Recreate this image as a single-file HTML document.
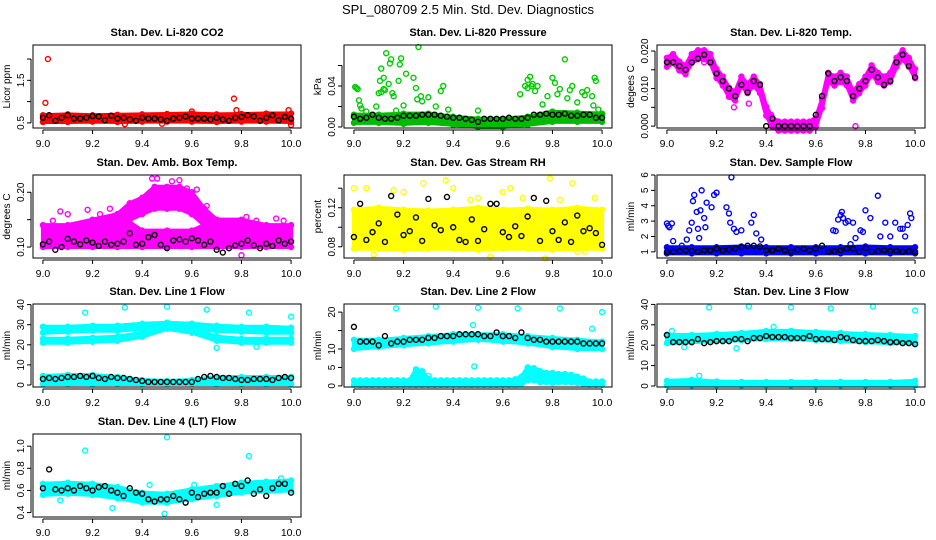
<!DOCTYPE html>
<html><head><meta charset="utf-8">
<style>
body{margin:0;background:#fff;}
svg{display:block;font-family:"Liberation Sans",sans-serif;}
</style></head>
<body>
<svg id="chart" width="936" height="540" viewBox="0 0 936 540">
<rect width="936" height="540" fill="#fff"/>
<text x="468" y="14" text-anchor="middle" font-size="13">SPL_080709  2.5 Min. Std. Dev. Diagnostics</text>
</svg>
<script>
const gridA = [9.0,9.1,9.2,9.3,9.4,9.5,9.6,9.7,9.8,9.9,10.0];
const gridB = [9.000,9.025,9.050,9.075,9.100,9.125,9.150,9.175,9.200,9.225,9.250,9.275,9.300,9.325,9.350,9.375,9.400,9.425,9.450,9.475,9.500,9.525,9.550,9.575,9.600,9.625,9.650,9.675,9.700,9.725,9.750,9.775,9.800,9.825,9.850,9.875,9.900,9.925,9.950,9.975,10.000];
const xTicks = [9.0,9.2,9.4,9.6,9.8,10.0];
const xTickLabels = ["9.0","9.2","9.4","9.6","9.8","10.0"];

// CO2
const co2Lo = [0.52,0.52,0.53,0.52,0.53,0.53,0.53,0.52,0.53,0.53,0.52];
const co2Hi = [0.68,0.70,0.68,0.69,0.70,0.71,0.72,0.70,0.71,0.72,0.72];
const co2Black = [0.62,0.68,0.55,0.62,0.68,0.60,0.60,0.62,0.66,0.65,0.56,0.67,0.60,0.62,0.58,0.55,0.62,0.60,0.60,0.58,0.55,0.60,0.62,0.65,0.60,0.60,0.60,0.58,0.62,0.58,0.55,0.62,0.64,0.68,0.65,0.55,0.62,0.68,0.56,0.64,0.60];
const co2OutX = [9.01,9.02,9.6,9.77,9.78,9.99,10.0,9.33,9.48];
const co2OutY = [0.97,2.0,0.77,1.07,0.8,0.8,0.45,0.47,0.48];

// Pressure
const presLo = [0.004,0.004,0.003,0.004,0.002,0.000,0.000,0.002,0.005,0.005,0.005];
const presHi = [0.012,0.012,0.013,0.013,0.010,0.008,0.008,0.010,0.015,0.014,0.013];
const presBlack = [0.010,0.008,0.009,0.012,0.009,0.008,0.008,0.009,0.011,0.011,0.011,0.012,0.012,0.012,0.011,0.010,0.009,0.009,0.008,0.007,0.005,0.008,0.008,0.008,0.008,0.009,0.008,0.008,0.009,0.012,0.012,0.013,0.012,0.012,0.013,0.011,0.011,0.012,0.012,0.009,0.009];
const presOutX = [9.005,9.01,9.015,9.02,9.025,9.03,9.05,9.09,9.1,9.105,9.11,9.12,9.125,9.13,9.14,9.145,9.15,9.155,9.16,9.17,9.18,9.185,9.19,9.2,9.21,9.24,9.25,9.255,9.26,9.27,9.275,9.3,9.33,9.35,9.36,9.38,9.5,9.67,9.69,9.7,9.71,9.72,9.74,9.76,9.78,9.8,9.81,9.82,9.83,9.85,9.86,9.88,9.9,9.92,9.94,9.96,9.97,9.975,9.985,9.965,9.12,9.7,9.73,9.87,9.11,9.715,9.93];
const presOutY = [0.039,0.038,0.037,0.026,0.021,0.018,0.015,0.020,0.033,0.045,0.057,0.048,0.036,0.072,0.042,0.062,0.066,0.033,0.030,0.016,0.045,0.061,0.067,0.021,0.052,0.048,0.038,0.027,0.078,0.030,0.025,0.029,0.020,0.035,0.040,0.017,0.016,0.032,0.040,0.046,0.049,0.042,0.040,0.022,0.030,0.048,0.043,0.032,0.037,0.066,0.028,0.040,0.024,0.034,0.036,0.030,0.048,0.045,0.017,0.021,0.037,0.038,0.035,0.036,0.034,0.040,0.031];

// Li-820 Temp
const tempCurve = [0.017,0.018,0.016,0.015,0.018,0.019,0.019,0.018,0.014,0.012,0.009,0.008,0.012,0.010,0.012,0.010,0.004,0.001,0,0,0,0,0,0,0.001,0.006,0.013,0.012,0.013,0.012,0.008,0.010,0.012,0.015,0.013,0.012,0.013,0.017,0.019,0.017,0.014];
const tempBlack = [0.017,0.017,0.016,0.015,0.017,0.018,0.019,0.017,0.014,0.012,0.010,0.008,0.011,0.009,0.012,0.011,0.000,0.002,0.000,0.000,0.000,0.000,0.000,0.000,0.003,0.008,0.014,0.012,0.013,0.012,0.008,0.010,0.012,0.015,0.013,0.011,0.012,0.017,0.019,0.016,0.013];
const tempOutX = [9.27,9.33,9.76,9.15,9.42];
const tempOutY = [0.005,0.006,0.000,0.017,0.003];

// Amb box temp
const ambLo = [0.100,0.100,0.100,0.100,0.100,0.100,0.100,0.100,0.100,0.100,0.100];
const ambHi = [0.140,0.140,0.150,0.160,0.130,0.130,0.130,0.150,0.150,0.140,0.140];
const humpX = [9.30,9.35,9.40,9.45,9.50,9.55,9.60,9.65,9.70];
const humpLo = [0.140,0.150,0.160,0.170,0.170,0.170,0.160,0.140,0.130];
const humpHi = [0.160,0.180,0.190,0.210,0.210,0.210,0.200,0.170,0.150];
const ambBlack = [0.105,0.110,0.095,0.100,0.115,0.110,0.105,0.112,0.108,0.102,0.110,0.104,0.106,0.110,0.125,0.104,0.106,0.118,0.122,0.104,0.098,0.112,0.114,0.110,0.116,0.112,0.104,0.110,0.095,0.090,0.098,0.103,0.106,0.112,0.103,0.098,0.106,0.102,0.112,0.106,0.110];
const ambOutX = [9.07,9.1,9.18,9.23,9.27,9.34,9.38,9.44,9.52,9.58,9.62,9.66,9.82,9.86,9.94,9.97,9.04,9.8,9.46,9.55];
const ambOutY = [0.165,0.16,0.168,0.16,0.17,0.168,0.172,0.225,0.22,0.207,0.205,0.175,0.155,0.148,0.152,0.148,0.148,0.085,0.225,0.222];

// Gas stream RH
const rhLo = [0.078,0.078,0.077,0.078,0.078,0.077,0.078,0.078,0.077,0.078,0.078];
const rhHi = [0.118,0.120,0.118,0.117,0.118,0.120,0.118,0.119,0.118,0.120,0.118];
const rhBlack = [0.090,0.124,0.087,0.095,0.104,0.085,0.132,0.113,0.092,0.096,0.110,0.086,0.129,0.102,0.097,0.131,0.100,0.087,0.085,0.108,0.086,0.098,0.124,0.124,0.095,0.090,0.101,0.091,0.111,0.130,0.086,0.127,0.096,0.087,0.105,0.085,0.112,0.096,0.099,0.094,0.082];
const rhOutX = [9.0,9.05,9.16,9.2,9.28,9.37,9.4,9.47,9.5,9.6,9.63,9.68,9.79,9.83,9.88,9.9,9.93,9.97,9.08,9.55,9.77];
const rhOutY = [0.14,0.14,0.138,0.136,0.145,0.148,0.14,0.128,0.13,0.136,0.14,0.13,0.15,0.128,0.145,0.075,0.075,0.13,0.072,0.07,0.068];

// Sample flow
const sampLo = [0.9,0.9,0.9,0.9,0.9,0.9,0.9,0.9,0.9,0.9,0.9];
const sampHi = [1.3,1.3,1.3,1.35,1.3,1.3,1.3,1.3,1.35,1.3,1.3];
const sampBlack = [1.0,1.0,1.05,1.1,1.05,1.0,1.1,1.1,1.2,1.1,1.15,1.2,1.3,1.4,1.4,1.35,1.1,1.1,1.2,1.1,1.0,1.15,1.2,1.1,1.2,1.4,1.0,1.05,1.1,1.2,1.2,1.0,1.25,1.0,1.05,1.1,1.05,1.05,1.0,1.05,1.0];
const sampOutX = [9.0,9.005,9.01,9.02,9.025,9.06,9.08,9.09,9.1,9.105,9.11,9.12,9.125,9.13,9.135,9.14,9.15,9.155,9.16,9.18,9.19,9.2,9.24,9.25,9.255,9.26,9.27,9.28,9.3,9.34,9.35,9.36,9.38,9.67,9.68,9.69,9.7,9.705,9.71,9.72,9.73,9.74,9.76,9.78,9.79,9.8,9.82,9.85,9.86,9.88,9.9,9.92,9.94,9.95,9.97,9.98,9.985,9.96,9.75];
const sampOutY = [2.85,2.7,2.6,2.85,1.7,1.4,1.8,2.4,2.9,4.3,4.7,3.6,2.5,1.9,3.7,5.0,3.2,2.6,4.2,3.9,4.7,4.85,3.9,3.5,2.9,5.85,2.5,2.3,2.4,2.9,3.4,2.2,1.8,2.4,2.35,3.1,3.4,3.6,3.2,2.9,3.0,1.5,1.9,2.4,2.3,3.7,3.2,4.65,2.0,2.9,2.0,2.9,2.5,2.5,2.75,3.5,3.2,2.0,2.9];

// Line 1 flow
const l1UpLo = [26,26.5,27,27,28,28.5,28,27,26.5,26,26];
const l1UpHi = [29,29,29.5,29.5,30.5,31,30.5,29.5,29,29,28.5];
const l1MidLo = [21,21,21.5,22,24,28,26,22,21,21,21];
const l1MidHi = [23,23,23.5,24,26,29,28,24,23,23,23];
const l1BotLo = [0.5,0.5,0.5,0.5,0.5,0.5,0.5,0.5,0.5,0.5,0.5];
const l1BotHi = [4.5,5,5,4,2.5,2,2.5,4,4,4,4];
const l1Black = [3,3.5,3,3.5,4,4,4.5,4,4.5,3.5,3,4,3.5,3.5,3,2.5,2,1.5,1.5,1.5,1.5,1.5,1.5,1.5,1.5,3,4,4.5,4,3.5,3.5,3,2.5,2.5,3,3,3,2.5,3.5,4,3.5];
const l1OutX = [9.17,9.33,9.5,9.66,9.83,10.0,9.7,9.86,9.44];
const l1OutY = [36,38.5,39,37.5,36,34,18.5,19,26.5];

// Line 2 flow
const l2Lo = [10,10.5,11,11.5,12,12.5,12,11.5,10.5,10,10];
const l2Hi = [12.5,12.5,13,13.5,14,14,14,13.5,13,12.5,12];
const l2BotLo = [0.3,0.3,0.3,0.3,0.3,0.3,0.3,0.3,0.3,0.3,0.3,0.3,0.3,0.3,0.3,0.3,0.3,0.3,0.3,0.3,0.3,0.3,0.3,0.3,0.3,0.3,0.3,0.5,1.5,1.5,1.0,1.0,0.8,1.0,1.0,1.0,0.8,0.5,0.3,0.3,0.3];
const l2BotHi = [1.5,1.5,1.5,1.5,1.5,1.5,1.5,1.5,1.5,1.5,4.5,4.0,1.8,1.5,1.5,1.5,1.5,1.5,1.5,1.5,1.5,1.5,1.5,1.5,1.5,1.5,1.8,2.5,5.0,4.8,4.0,3.5,3.5,3.2,3.2,3.0,2.5,2.0,1.2,1.2,1.2];
const l2Black = [16,12,12,12,11,13.5,11.5,12,12,12.5,12.5,12.5,13,13,13.5,13.5,13.5,14,14,14,14,13.5,13.5,14.5,13.5,13.5,13,14.5,13,12.5,12.5,12,12,12,12,12,12,11.5,11.5,11.5,11.5];
const l2OutX = [9.17,9.33,9.5,9.66,9.83,10.0,9.48,9.96,9.485,9.3];
const l2OutY = [21,21.5,21.2,21,21,20,16.5,15.5,5.3,2.7];

// Line 3 flow
const l3Lo = [21,21.5,22,22.5,23,23,22.5,22,21.5,21,21];
const l3Hi = [25,25,25.5,26,27,27,26.5,26,25.5,25,24.5];
const l3BotLo = [0.3,0.3,0.3,0.3,0.3,0.3,0.3,0.3,0.3,0.3,0.3];
const l3BotHi = [2.5,3,2.2,2,2,2,2,2,2,2,2.5];
const l3Black = [25,21.5,21.5,21.5,21.5,23,21,21.5,22,22,22,23,23,22,23.5,23.5,24.5,24,24,24,23.5,23.5,23.5,24.5,23,23,23,22.5,24,23.5,22.5,22,22,22,22.5,22,21.5,21.5,21,21,20.5];
const l3OutX = [9.17,9.33,9.5,9.66,9.83,10.0,9.07,9.28,9.43,9.13,9.02];
const l3OutY = [38.5,39,38.5,38,39,37,19,18.5,29,5,27];

// Line 4 flow
const l4Lo = [0.56,0.57,0.56,0.53,0.49,0.49,0.52,0.55,0.58,0.59,0.60];
const l4Hi = [0.66,0.67,0.66,0.63,0.58,0.57,0.61,0.64,0.67,0.68,0.69];
const l4Black = [0.62,0.79,0.61,0.60,0.62,0.60,0.64,0.62,0.60,0.63,0.64,0.60,0.58,0.55,0.62,0.58,0.57,0.52,0.50,0.52,0.52,0.55,0.52,0.49,0.58,0.54,0.57,0.58,0.58,0.64,0.57,0.66,0.64,0.69,0.57,0.61,0.55,0.62,0.66,0.66,0.58];
const l4OutX = [9.17,9.5,9.83,9.28,9.49,9.07,9.7,9.96,9.61,9.43];
const l4OutY = [0.96,1.08,0.91,0.44,0.39,0.51,0.47,0.71,0.65,0.65];

const NS = "http://www.w3.org/2000/svg";
const svg = document.getElementById('chart');
function mk(tag, attrs, parent){const e=document.createElementNS(NS,tag);for(const k in attrs)e.setAttribute(k,attrs[k]);(parent||svg).appendChild(e);return e;}

const colL=[33,344,657], rowT=[45,175,304,434], W=268, H=83;
const panels = [
 {id:'co2',title:'Stan. Dev. Li-820 CO2',ylab:'Licor ppm',c:0,r:0,yd:[0.38,2.33],yt:[0.5,1,1.5,2],yl:["0.5","","1.5",""],col:'#ff0000'},
 {id:'pressure',title:'Stan. Dev. Li-820 Pressure',ylab:'kPa',c:1,r:0,yd:[-0.001,0.080],yt:[0,0.02,0.04,0.06],yl:["0.00","","0.04",""],col:'#00cc00'},
 {id:'li820-temp',title:'Stan. Dev. Li-820 Temp.',ylab:'degees C',c:2,r:0,yd:[-0.0005,0.0216],yt:[0,0.005,0.01,0.015,0.02],yl:["0.000","","0.010","","0.020"],col:'#ff00ff'},
 {id:'amb-box-temp',title:'Stan. Dev. Amb. Box Temp.',ylab:'degrees C',c:0,r:1,yd:[0.080,0.2315],yt:[0.10,0.15,0.20],yl:["0.10","","0.20"],col:'#ff00ff'},
 {id:'gas-stream-rh',title:'Stan. Dev. Gas Stream RH',ylab:'percent',c:1,r:1,yd:[0.0685,0.1535],yt:[0.08,0.10,0.12,0.14],yl:["0.08","","0.12",""],col:'#ffff00'},
 {id:'sample-flow',title:'Stan. Dev. Sample Flow',ylab:'ml/min',c:2,r:1,yd:[0.6,6.0],yt:[1,2,3,4,5,6],yl:["1","2","3","4","5","6"],col:'#0000ff'},
 {id:'line1-flow',title:'Stan. Dev. Line 1 Flow',ylab:'ml/min',c:0,r:2,yd:[-1.0,40.3],yt:[0,10,20,30,40],yl:["0","10","20","30","40"],col:'#00ffff'},
 {id:'line2-flow',title:'Stan. Dev. Line 2 Flow',ylab:'ml/min',c:1,r:2,yd:[-0.3,22.2],yt:[0,5,10,15,20],yl:["0","5","10","","20"],col:'#00ffff'},
 {id:'line3-flow',title:'Stan. Dev. Line 3 Flow',ylab:'ml/min',c:2,r:2,yd:[-0.5,40.2],yt:[0,10,20,30,40],yl:["0","10","20","30","40"],col:'#00ffff'},
 {id:'line4-flow',title:'Stan. Dev. Line 4 (LT) Flow',ylab:'ml/min',c:0,r:3,yd:[0.36,1.11],yt:[0.4,0.6,0.8,1.0],yl:["0.4","0.6","0.8","1.0"],col:'#00ffff'}
];

function setup(p){
  const L=colL[p.c], T=rowT[p.r];
  p.x = v => L + (v-8.96)/1.08*W;
  p.y = v => T+H - (v-p.yd[0])/(p.yd[1]-p.yd[0])*H;
  const g = mk('g',{});
  
  
  p.g = g;
  const t = mk('text',{x:L+W/2,y:T-9,'text-anchor':'middle','font-size':'11','font-weight':'bold'},g);
  t.textContent = p.title;
  
  
  const yt = mk('text',{x:L-23,y:T+H/2,'text-anchor':'middle','font-size':'10',transform:`rotate(-90 ${L-23} ${T+H/2})`},g);
  yt.textContent = p.ylab;
  
  
  p.plot = mk('g',{},g);
  p.L=L;p.T=T;
}
function finish(p){
  const g=p.g,L=p.L,T=p.T;
  const box = mk('rect',{x:L,y:T,width:W,height:H,fill:'none',stroke:'#000','stroke-width':1},g);
  
  
  const xa = mk('g',{},g);
  
  
  mk('line',{x1:p.x(9.0),x2:p.x(10.0),y1:T+H+2,y2:T+H+2,stroke:'#000'},xa);
  xTicks.forEach((v,i)=>{
    mk('line',{x1:p.x(v),x2:p.x(v),y1:T+H+2,y2:T+H+6,stroke:'#000'},xa);
    const tx = mk('text',{x:p.x(v),y:T+H+19,'text-anchor':'middle','font-size':'10.5'},xa);
    tx.textContent = xTickLabels[i];
  });
  const ya = mk('g',{},g);
  
  
  mk('line',{x1:L-2,x2:L-2,y1:p.y(p.yt[0]),y2:p.y(p.yt[p.yt.length-1]),stroke:'#000'},ya);
  p.yt.forEach((v,i)=>{
    const yy=p.y(v);
    mk('line',{x1:L-6,x2:L-2,y1:yy,y2:yy,stroke:'#000'},ya);
    if(p.yl[i]){
      const tx = mk('text',{x:L-9,y:yy,'text-anchor':'middle','font-size':'10',transform:`rotate(-90 ${L-9} ${yy})`},ya);
      tx.textContent = p.yl[i];
    }
  });
}
function pt(p,x,y,col,name){
  const c = mk('circle',{cx:p.x(x),cy:p.y(y),r:2.5,fill:'none',stroke:col,'stroke-width':1.4},p.plot);
  
  
}
function band(p,xs,lo,hi,col,name){
  let d='';
  xs.forEach((x,i)=>{d+=(i?'L':'M')+p.x(x)+','+p.y(hi[i]);});
  for(let i=xs.length-1;i>=0;i--) d+='L'+p.x(xs[i])+','+p.y(lo[i]);
  const b = mk('path',{d:d+'Z',fill:col,stroke:col,'stroke-width':4,'stroke-linejoin':'round'},p.plot);
  
  
  xs.forEach((x,i)=>{pt(p,x,lo[i],col,name+'-point');pt(p,x,hi[i],col,name+'-point');});
}
function scatter(p,xs,ys,col,name){xs.forEach((x,i)=>pt(p,x,ys[i],col,name));}
function blacks(p,ys){ys.forEach((y,i)=>pt(p,gridB[i],y,'#000','hourly-mean-point'));}

const P = {}; panels.forEach(p=>{P[p.id]=p;setup(p);});

let p=P['co2']; band(p,gridA,co2Lo,co2Hi,'#ff0000','co2-band'); scatter(p,co2OutX,co2OutY,'#ff0000','co2-outlier'); blacks(p,co2Black);
p=P['pressure']; band(p,gridA,presLo,presHi,'#00bb00','pressure-band'); scatter(p,presOutX,presOutY,'#00cc00','pressure-point'); blacks(p,presBlack);
p=P['li820-temp']; band(p,gridB,tempCurve.map(v=>v-0.0012),tempCurve.map(v=>v+0.0012),'#ff00ff','temp-band'); scatter(p,tempOutX,tempOutY,'#ff00ff','temp-outlier'); blacks(p,tempBlack);
p=P['amb-box-temp']; band(p,gridA,ambLo,ambHi,'#ff00ff','amb-low-band'); band(p,humpX,humpLo,humpHi,'#ff00ff','amb-hump-band'); scatter(p,ambOutX,ambOutY,'#ff00ff','amb-outlier'); blacks(p,ambBlack);
p=P['gas-stream-rh']; band(p,gridA,rhLo,rhHi,'#ffff00','rh-band'); scatter(p,rhOutX,rhOutY,'#ffff00','rh-outlier'); blacks(p,rhBlack);
p=P['sample-flow']; band(p,gridA,sampLo,sampHi,'#0000ff','sample-band'); scatter(p,sampOutX,sampOutY,'#0000ff','sample-point'); blacks(p,sampBlack);
p=P['line1-flow']; band(p,gridA,l1UpLo,l1UpHi,'#00ffff','line1-upper-band'); band(p,gridA,l1MidLo,l1MidHi,'#00ffff','line1-mid-band'); band(p,gridA,l1BotLo,l1BotHi,'#00ffff','line1-low-band'); scatter(p,l1OutX,l1OutY,'#00ffff','line1-outlier'); blacks(p,l1Black);
p=P['line2-flow']; band(p,gridA,l2Lo,l2Hi,'#00ffff','line2-band'); band(p,gridB,l2BotLo,l2BotHi,'#00ffff','line2-low-band'); scatter(p,l2OutX,l2OutY,'#00ffff','line2-outlier'); blacks(p,l2Black);
p=P['line3-flow']; band(p,gridA,l3Lo,l3Hi,'#00ffff','line3-band'); band(p,gridA,l3BotLo,l3BotHi,'#00ffff','line3-low-band'); scatter(p,l3OutX,l3OutY,'#00ffff','line3-outlier'); blacks(p,l3Black);
p=P['line4-flow']; band(p,gridA,l4Lo,l4Hi,'#00ffff','line4-band'); scatter(p,l4OutX,l4OutY,'#00ffff','line4-outlier'); blacks(p,l4Black);

panels.forEach(finish);
</script>
</body></html>
